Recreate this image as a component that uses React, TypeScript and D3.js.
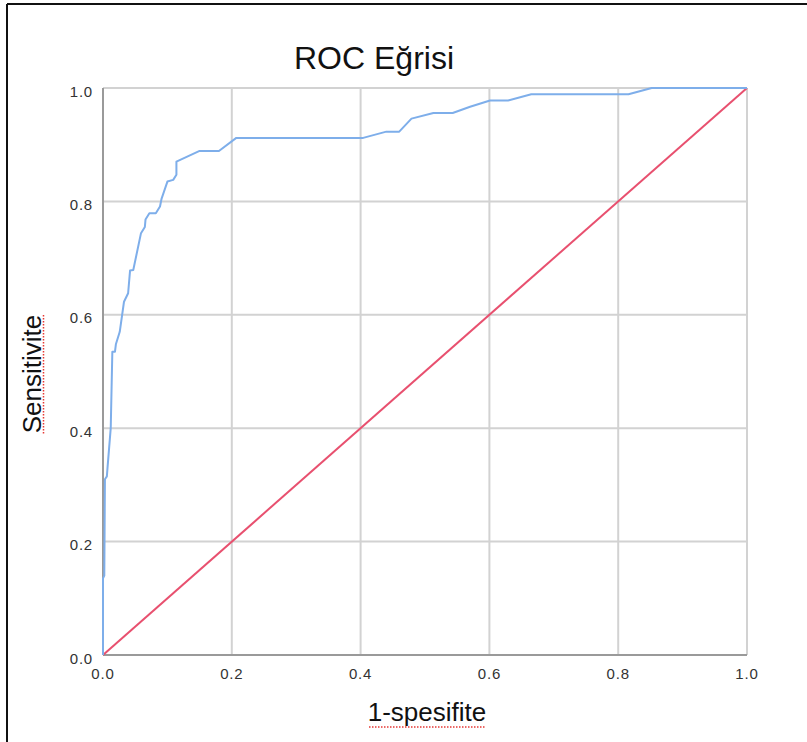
import React from "react";
import * as d3 from "d3";

// ROC curve coordinates
const fpr = [0, 0, 0.002, 0.003, 0.006, 0.007, 0.012, 0.0145, 0.0186, 0.02, 0.026, 0.0326, 0.039, 0.042, 0.047, 0.059, 0.065, 0.066, 0.072, 0.082, 0.0885, 0.091, 0.1, 0.109, 0.114, 0.114, 0.15, 0.18, 0.207, 0.404, 0.44, 0.46, 0.479, 0.513, 0.543, 0.57, 0.601, 0.629, 0.665, 0.816, 0.852, 1];
const tpr = [0, 0.135, 0.14, 0.31, 0.315, 0.33, 0.4, 0.535, 0.535, 0.548, 0.57, 0.623, 0.638, 0.678, 0.679, 0.744, 0.755, 0.768, 0.779, 0.779, 0.791, 0.805, 0.835, 0.838, 0.847, 0.87, 0.889, 0.889, 0.912, 0.912, 0.923, 0.923, 0.946, 0.956, 0.956, 0.967, 0.978, 0.978, 0.989, 0.989, 1, 1];
// Reference diagonal
const refLine = [0, 1];
const ticks = [0, 0.2, 0.4, 0.6, 0.8, 1.0];
const titleText = "ROC Eğrisi";
const xTitle = "1-spesifite";
const yTitle = "Sensitivite";

const W = 807;
const H = 742;
const left = 103;
const right = 747;
const top = 88;
const bottom = 655;
const font = "'Liberation Sans', Arial, sans-serif";

export default function App() {
  const x = d3.scaleLinear().domain([0, 1]).range([left, right]);
  const y = d3.scaleLinear().domain([0, 1]).range([bottom, top]);
  const line = d3
    .line<number>()
    .x((_, i) => x(fpr[i]))
    .y((_, i) => y(tpr[i]));
  const diag = d3
    .line<number>()
    .x((d) => x(d))
    .y((d) => y(d));

  return (
    <svg
      width={W}
      height={H}
      style={{ position: "fixed", left: 0, top: 0, background: "#fff" }}
    >
      {/* outer frame */}
      <line x1={7} y1={4} x2={W} y2={4} stroke="#111" strokeWidth={2} />
      <line x1={7} y1={4} x2={7} y2={H} stroke="#111" strokeWidth={2} />

      {/* grid */}
      {ticks.map((t) => (
        <line key={"gx" + t} x1={x(t)} x2={x(t)} y1={top} y2={bottom} stroke="#d2d2d2" strokeWidth={2} />
      ))}
      {ticks.map((t) => (
        <line key={"gy" + t} x1={left} x2={right} y1={y(t)} y2={y(t)} stroke="#d2d2d2" strokeWidth={2} />
      ))}
      {/* axes */}
      <line x1={left} x2={left} y1={top} y2={bottom} stroke="#9a9a9a" strokeWidth={2} />
      <line x1={left} x2={right} y1={bottom} y2={bottom} stroke="#9a9a9a" strokeWidth={2} />

      {/* tick labels */}
      {ticks.map((t) => (
        <text key={"ty" + t} x={left - 10} y={y(t) + 8.5} textAnchor="end" fontFamily={font} fontSize={15} letterSpacing={0.8} fill="#333">
          {t.toFixed(1)}
        </text>
      ))}
      {ticks.map((t) => (
        <text key={"tx" + t} x={x(t)} y={bottom + 24} textAnchor="middle" fontFamily={font} fontSize={15} letterSpacing={0.8} fill="#333">
          {t.toFixed(1)}
        </text>
      ))}

      {/* curves */}
      <path d={diag(refLine) || ""} fill="none" stroke="#e8506f" strokeWidth={2} />
      <path d={line(fpr) || ""} fill="none" stroke="#7eaeea" strokeWidth={2} strokeLinejoin="round" />

      {/* titles */}
      <text x={374} y={69} textAnchor="middle" fontFamily={font} fontSize={32} fill="#111">
        {titleText}
      </text>
      <text x={427} y={721} textAnchor="middle" fontFamily={font} fontSize={26} fill="#111">
        {xTitle}
      </text>
      <line x1={369} x2={485} y1={727} y2={727} stroke="#e53935" strokeWidth={1.5} strokeDasharray="1.5 1.5" />
      <g transform="translate(41,374) rotate(-90)">
        <text x={0} y={0} textAnchor="middle" fontFamily={font} fontSize={26} fill="#111">
          {yTitle}
        </text>
      </g>
      <line x1={43.5} x2={43.5} y1={315} y2={434} stroke="#e53935" strokeWidth={1.5} strokeDasharray="1.5 1.5" />
    </svg>
  );
}
